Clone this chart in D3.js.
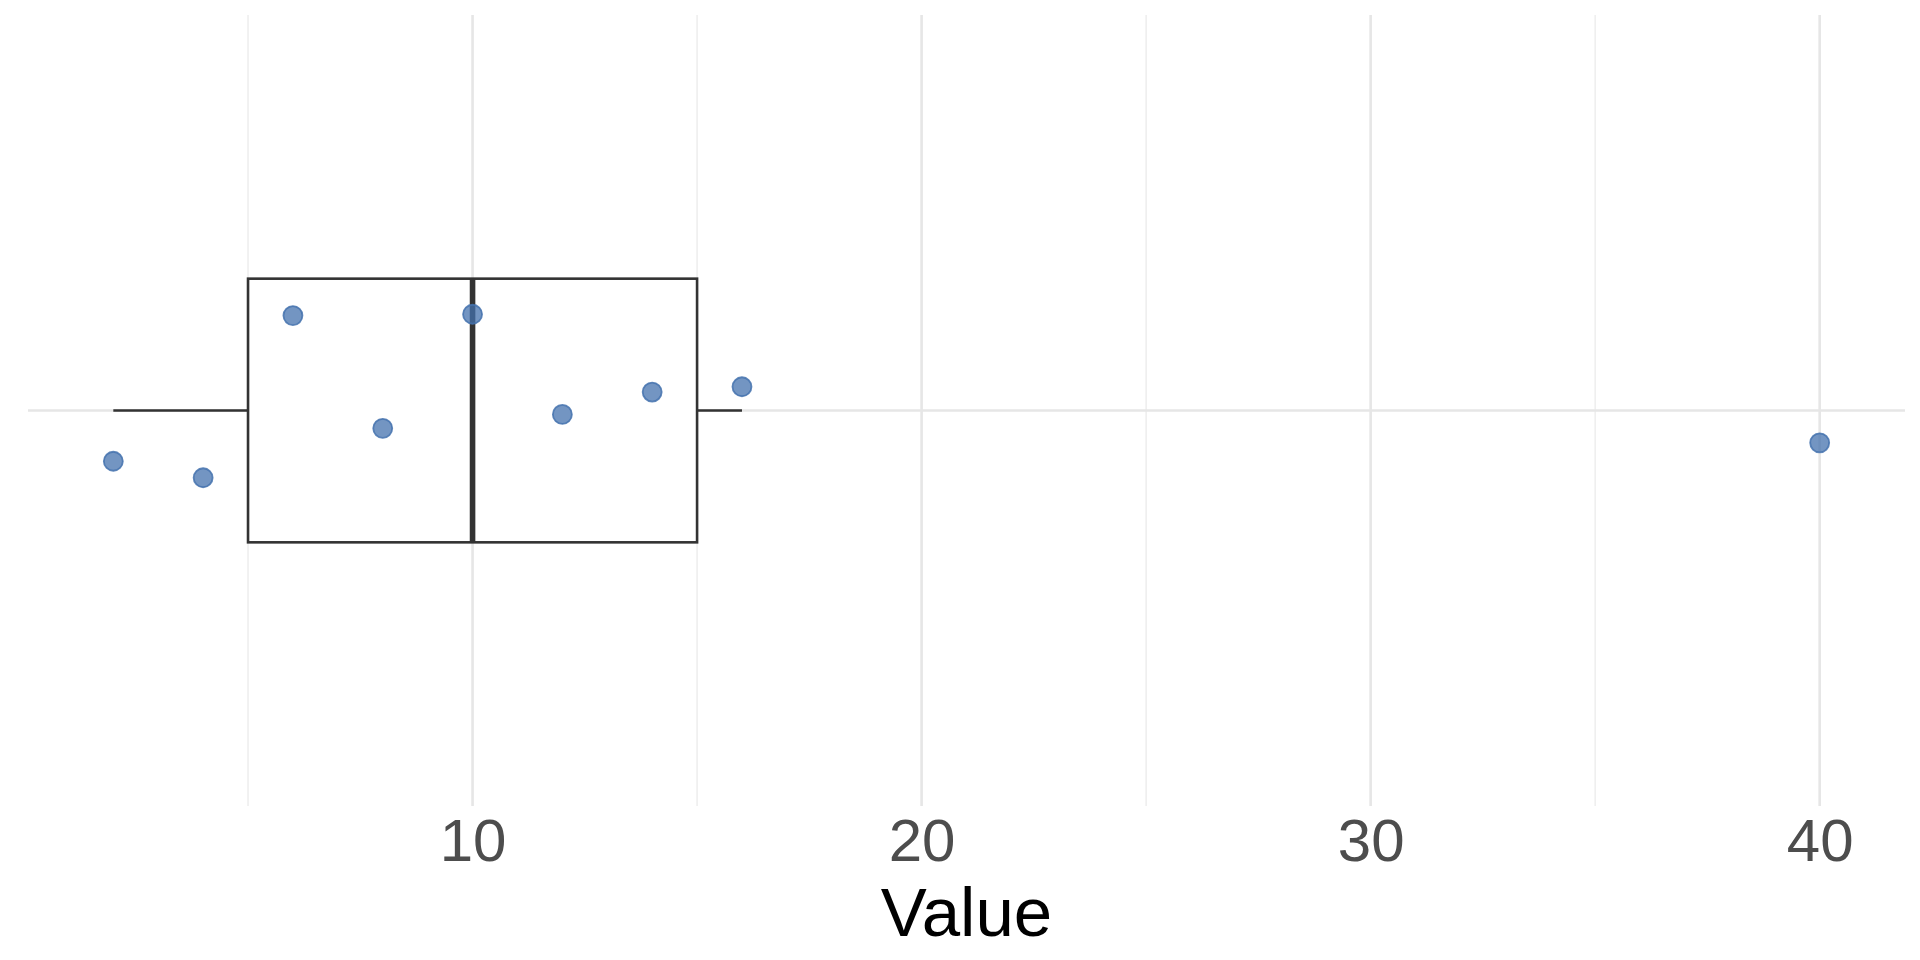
<!DOCTYPE html>
<html>
<head>
<meta charset="utf-8">
<script src="https://cdn.jsdelivr.net/npm/d3@7"></script>
<style>
  body { margin: 0; background: #fff; }
  text { font-family: "Liberation Sans", Arial, sans-serif; }
</style>
</head>
<body>
<div id="chart"></div>
<script>
const values = [2, 4, 6, 8, 10, 12, 14, 16, 40];
// vertical jitter of each point, in category units
const jitter = [-0.077, -0.102, 0.144, -0.027, 0.146, -0.006, 0.028, 0.036, -0.049];
const majorTicks = [10, 20, 30, 40];
const minorTicks = [5, 15, 25, 35];
const xTitle = 'Value';

const size = { width: 1920, height: 960 };
const panel = { left: 28, right: 1905, top: 15, bottom: 806 };

const svg = d3.select('#chart').append('svg')
  .attr('width', size.width)
  .attr('height', size.height);

const extent = d3.extent(values);
const pad = (extent[1] - extent[0]) * 0.05;
const x = d3.scaleLinear()
  .domain([extent[0] - pad, extent[1] + pad])
  .range([panel.left, panel.right]);

// single discrete category at 1, expanded by 0.6 each side
const y = d3.scaleLinear()
  .domain([0.4, 1.6])
  .range([panel.bottom, panel.top]);

const stats = boxStats(values);
const boxHalf = 0.2;

drawGrid();
drawBox();
drawPoints();
drawAxis();

function quantile6(sorted, p) {
  const pos = p * (sorted.length + 1) - 1;
  const lo = Math.max(0, Math.floor(pos));
  const hi = Math.min(sorted.length - 1, lo + 1);
  return sorted[lo] + (pos - lo) * (sorted[hi] - sorted[lo]);
}

function boxStats(data) {
  const sorted = data.slice().sort(d3.ascending);
  const q1 = quantile6(sorted, 0.25);
  const q3 = quantile6(sorted, 0.75);
  const med = d3.median(sorted);
  const iqr = q3 - q1;
  const inside = sorted.filter(v => v >= q1 - 1.5 * iqr && v <= q3 + 1.5 * iqr);
  return { q1, q3, med, lo: d3.min(inside), hi: d3.max(inside) };
}

function drawGrid() {
  const grid = svg.append('g').attr('class', 'grid');

  grid.selectAll('line.minor')
    .data(minorTicks)
    .enter().append('line')
    .attr('class', 'minor')
    .attr('x1', d => x(d)).attr('x2', d => x(d))
    .attr('y1', panel.top).attr('y2', panel.bottom)
    .attr('stroke', '#ebebeb')
    .attr('stroke-width', 1.3);

  grid.selectAll('line.major')
    .data(majorTicks)
    .enter().append('line')
    .attr('class', 'major')
    .attr('x1', d => x(d)).attr('x2', d => x(d))
    .attr('y1', panel.top).attr('y2', panel.bottom)
    .attr('stroke', '#e6e6e6')
    .attr('stroke-width', 2.6);

  grid.append('line')
    .attr('x1', panel.left).attr('x2', panel.right)
    .attr('y1', y(1)).attr('y2', y(1))
    .attr('stroke', '#e6e6e6')
    .attr('stroke-width', 2.6);
}

function drawBox() {
  const g = svg.append('g').attr('class', 'box')
    .attr('stroke', '#333333')
    .attr('fill', 'none');

  g.append('line')
    .attr('x1', x(stats.lo)).attr('x2', x(stats.q1))
    .attr('y1', y(1)).attr('y2', y(1))
    .attr('stroke-width', 2.6);

  g.append('line')
    .attr('x1', x(stats.q3)).attr('x2', x(stats.hi))
    .attr('y1', y(1)).attr('y2', y(1))
    .attr('stroke-width', 2.6);

  g.append('rect')
    .attr('x', x(stats.q1))
    .attr('y', y(1 + boxHalf))
    .attr('width', x(stats.q3) - x(stats.q1))
    .attr('height', y(1 - boxHalf) - y(1 + boxHalf))
    .attr('fill', '#fff')
    .attr('stroke-width', 2.6);

  g.append('line')
    .attr('x1', x(stats.med)).attr('x2', x(stats.med))
    .attr('y1', y(1 + boxHalf)).attr('y2', y(1 - boxHalf))
    .attr('stroke-width', 5.6);
}

function drawPoints() {
  svg.append('g').attr('class', 'points')
    .selectAll('circle')
    .data(values)
    .enter().append('circle')
    .attr('cx', d => x(d))
    .attr('cy', (d, i) => y(1 + jitter[i]))
    .attr('r', 9.5)
    .attr('fill', '#4472ae')
    .attr('fill-opacity', 0.75)
    .attr('stroke', '#4472ae')
    .attr('stroke-opacity', 0.85)
    .attr('stroke-width', 1.8);
}

function drawAxis() {
  const axis = svg.append('g')
    .attr('transform', `translate(0,${panel.bottom})`)
    .call(d3.axisBottom(x).tickValues(majorTicks).tickSize(0).tickPadding(12));

  axis.select('.domain').remove();
  axis.selectAll('text')
    .attr('font-family', '"Liberation Sans", Arial, sans-serif')
    .attr('font-size', 60)
    .attr('fill', '#4d4d4d');

  svg.append('text')
    .attr('x', (panel.left + panel.right) / 2)
    .attr('y', 936)
    .attr('text-anchor', 'middle')
    .attr('font-size', 69)
    .attr('fill', '#000')
    .text(xTitle);
}
</script>
</body>
</html>
